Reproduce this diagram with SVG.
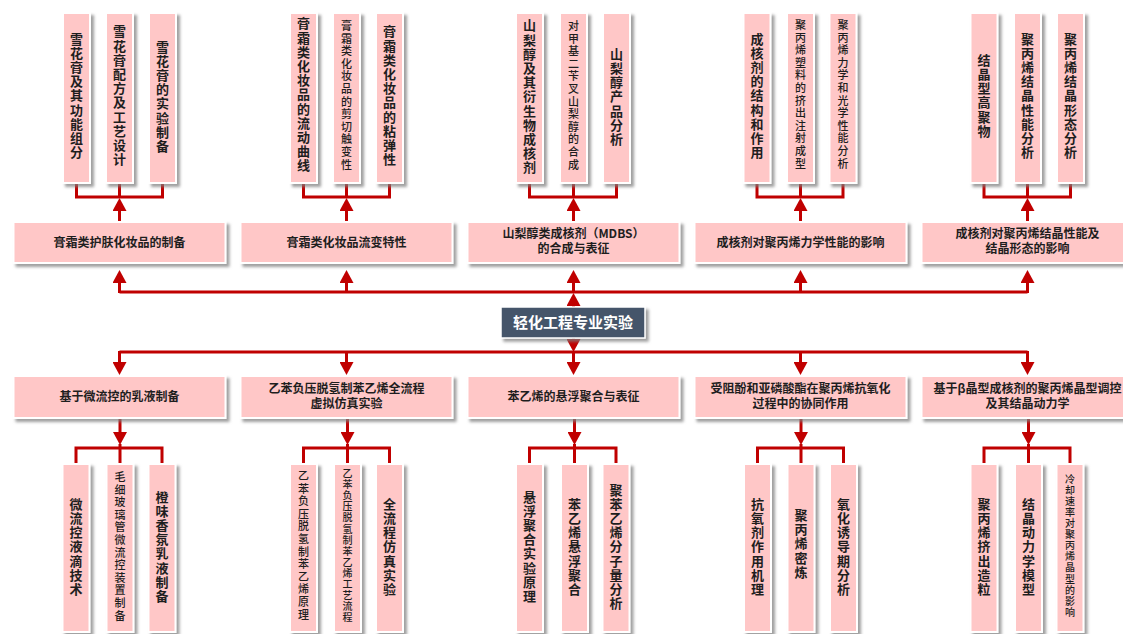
<svg xmlns="http://www.w3.org/2000/svg" width="1123" height="634" viewBox="0 0 1123 634">
<defs>
<filter id="sh" x="-20%" y="-20%" width="150%" height="150%">
<feDropShadow dx="3" dy="3" stdDeviation="1.6" flood-color="#7f7f7f" flood-opacity="0.75"/>
</filter>
<marker id="ah" viewBox="0 0 13 14" markerWidth="13" markerHeight="14" refX="0" refY="7" orient="auto" markerUnits="userSpaceOnUse">
<path d="M0,0 L13,7 L0,14 z" fill="#C00000"/>
</marker>
</defs>
<style>
.box{fill:#FFC7C7;stroke:#FFFFFF;stroke-width:2;filter:url(#sh)}
.ctr{fill:#44546A;stroke:#FFFFFF;stroke-width:1.5;filter:url(#sh)}
.ln{fill:none;stroke:#C00000;stroke-width:3}
.ar{fill:none;stroke:#C00000;stroke-width:3;marker-end:url(#ah)}
text{font-family:"Noto Sans CJK SC","Liberation Sans",sans-serif;fill:#1E1E1E}
.mt{font-size:12px;font-weight:bold;text-anchor:middle}
.ct{font-size:15px;font-weight:bold;text-anchor:middle;fill:#FFFFFF}
.v{writing-mode:vertical-rl;text-anchor:middle}
.lt{font-size:13px;font-weight:bold;letter-spacing:1.2px}
.ls{font-size:11px;font-weight:500;letter-spacing:1.6px}
.lx{font-size:10px;font-weight:500;letter-spacing:1.1px}
</style>
<rect width="1123" height="634" fill="#FFFFFF"/>

<g id="connectors">
<!-- top leaf brackets -->
<path class="ln" d="M76.5,183 V197 H162.5 V183 M119.5,183 V197"/>
<path class="ln" d="M303.5,183 V197 H389.5 V183 M346.5,183 V197"/>
<path class="ln" d="M529.5,183 V197 H616.5 V183 M573.5,183 V197"/>
<path class="ln" d="M757,183 V197 H843 V183 M800.5,183 V197"/>
<path class="ln" d="M984,183 V197 H1070.5 V183 M1027.5,183 V197"/>
<line class="ar" x1="119.5" y1="222" x2="119.5" y2="211"/>
<line class="ar" x1="346.5" y1="222" x2="346.5" y2="211"/>
<line class="ar" x1="573.5" y1="222" x2="573.5" y2="211"/>
<line class="ar" x1="800.5" y1="222" x2="800.5" y2="211"/>
<line class="ar" x1="1027.5" y1="222" x2="1027.5" y2="211"/>
<!-- upper main bus -->
<path class="ln" d="M119.5,292 H1027.5"/>
<line class="ar" x1="119.5" y1="293" x2="119.5" y2="283"/>
<line class="ar" x1="346.5" y1="293" x2="346.5" y2="283"/>
<line class="ar" x1="573.5" y1="293" x2="573.5" y2="283"/>
<line class="ar" x1="800.5" y1="293" x2="800.5" y2="283"/>
<line class="ar" x1="1027.5" y1="293" x2="1027.5" y2="283"/>
<line class="ar" x1="573.5" y1="320" x2="573.5" y2="306"/>
<line class="ar" x1="573.5" y1="325" x2="573.5" y2="339"/>
<!-- lower main bus -->
<path class="ln" d="M119.5,352 H1027.5"/>
<line class="ar" x1="119.5" y1="351" x2="119.5" y2="362"/>
<line class="ar" x1="346.5" y1="351" x2="346.5" y2="362"/>
<line class="ar" x1="573.5" y1="351" x2="573.5" y2="362"/>
<line class="ar" x1="800.5" y1="351" x2="800.5" y2="362"/>
<line class="ar" x1="1027.5" y1="351" x2="1027.5" y2="362"/>
<!-- bottom leaf brackets -->
<line class="ar" x1="120" y1="418" x2="120" y2="432"/>
<line class="ar" x1="347.5" y1="418" x2="347.5" y2="432"/>
<line class="ar" x1="574.5" y1="418" x2="574.5" y2="432"/>
<line class="ar" x1="801" y1="418" x2="801" y2="432"/>
<line class="ar" x1="1028.5" y1="418" x2="1028.5" y2="432"/>
<path class="ln" d="M76,464 V448 H162 V464 M120,444 V464"/>
<path class="ln" d="M303.5,464 V448 H389.5 V464 M347.5,444 V464"/>
<path class="ln" d="M529.5,464 V448 H616 V464 M574.5,444 V464"/>
<path class="ln" d="M757.5,464 V448 H843.5 V464 M801,444 V464"/>
<path class="ln" d="M984,464 V448 H1070 V464 M1028.5,444 V464"/>
</g>

<!-- center node -->
<g id="root">
<rect class="ctr" x="501" y="307" width="144" height="31"/>
<text class="ct" x="573" y="328">轻化工程专业实验</text>
</g>

<!-- upper middle row -->
<g id="u1"><rect class="box" x="13.5" y="222" width="212" height="41"/><text class="mt" x="119.5" y="247">膏霜类护肤化妆品的制备</text></g>
<g id="u2"><rect class="box" x="240.5" y="222" width="212" height="41"/><text class="mt" x="346.5" y="247">膏霜类化妆品流变特性</text></g>
<g id="u3"><rect class="box" x="467.5" y="222" width="212" height="41"/><text class="mt" x="573.5" y="238">山梨醇类成核剂（MDBS）</text><text class="mt" x="573.5" y="253">的合成与表征</text></g>
<g id="u4"><rect class="box" x="694.5" y="222" width="212" height="41"/><text class="mt" x="800.5" y="247">成核剂对聚丙烯力学性能的影响</text></g>
<g id="u5"><rect class="box" x="921.5" y="222" width="212" height="41"/><text class="mt" x="1027.5" y="238">成核剂对聚丙烯结晶性能及</text><text class="mt" x="1027.5" y="253">结晶形态的影响</text></g>

<!-- lower middle row -->
<g id="d1"><rect class="box" x="13.5" y="376" width="212" height="42"/><text class="mt" x="119.5" y="401">基于微流控的乳液制备</text></g>
<g id="d2"><rect class="box" x="240.5" y="376" width="212" height="42"/><text class="mt" x="346.5" y="393">乙苯负压脱氢制苯乙烯全流程</text><text class="mt" x="346.5" y="408">虚拟仿真实验</text></g>
<g id="d3"><rect class="box" x="467.5" y="376" width="212" height="42"/><text class="mt" x="573.5" y="401">苯乙烯的悬浮聚合与表征</text></g>
<g id="d4"><rect class="box" x="694.5" y="376" width="212" height="42"/><text class="mt" x="800.5" y="393">受阻酚和亚磷酸酯在聚丙烯抗氧化</text><text class="mt" x="800.5" y="408">过程中的协同作用</text></g>
<g id="d5"><rect class="box" x="921.5" y="376" width="212" height="42"/><text class="mt" x="1027.5" y="393">基于β晶型成核剂的聚丙烯晶型调控</text><text class="mt" x="1027.5" y="408">及其结晶动力学</text></g>

<!-- top leaves -->
<g id="t1a"><rect class="box" x="63" y="13" width="27" height="170"/><text class="v lt" x="76.5" y="96">雪花膏及其功能组分</text></g>
<g id="t1b"><rect class="box" x="106" y="13" width="27" height="170"/><text class="v lt" x="119.5" y="96">雪花膏配方及工艺设计</text></g>
<g id="t1c"><rect class="box" x="149" y="13" width="27" height="170"/><text class="v lt" x="162.5" y="97">雪花膏的实验制备</text></g>
<g id="t2a"><rect class="box" x="290" y="13" width="27" height="170"/><text class="v lt" x="303.5" y="95">膏霜类化妆品的流动曲线</text></g>
<g id="t2b"><rect class="box" x="333" y="13" width="27" height="170"/><text class="v ls" x="346.5" y="96">膏霜类化妆品的剪切触变性</text></g>
<g id="t2c"><rect class="box" x="376" y="13" width="27" height="170"/><text class="v lt" x="389.5" y="96">膏霜类化妆品的粘弹性</text></g>
<g id="t3a"><rect class="box" x="516" y="13" width="27" height="170"/><text class="v lt" x="529.5" y="97">山梨醇及其衍生物成核剂</text></g>
<g id="t3b"><rect class="box" x="560" y="13" width="27" height="170"/><text class="v ls" x="573.5" y="96">对甲基二苄叉山梨醇的合成</text></g>
<g id="t3c"><rect class="box" x="603" y="13" width="27" height="170"/><text class="v lt" x="616.5" y="97">山梨醇产品分析</text></g>
<g id="t4a"><rect class="box" x="743.5" y="13" width="27" height="170"/><text class="v lt" x="757" y="96">成核剂的结构和作用</text></g>
<g id="t4b"><rect class="box" x="787" y="13" width="27" height="170"/><text class="v ls" x="800.5" y="95">聚丙烯塑料的挤出注射成型</text></g>
<g id="t4c"><rect class="box" x="829.5" y="13" width="27" height="170"/><text class="v ls" x="843" y="95">聚丙烯力学和光学性能分析</text></g>
<g id="t5a"><rect class="box" x="970.5" y="13" width="27" height="170"/><text class="v lt" x="984" y="96">结晶型高聚物</text></g>
<g id="t5b"><rect class="box" x="1014" y="13" width="27" height="170"/><text class="v lt" x="1027.5" y="96">聚丙烯结晶性能分析</text></g>
<g id="t5c"><rect class="box" x="1057" y="13" width="27" height="170"/><text class="v lt" x="1070.5" y="96">聚丙烯结晶形态分析</text></g>

<!-- bottom leaves -->
<g id="b1a"><rect class="box" x="62.5" y="464" width="27" height="168"/><text class="v lt" x="76" y="547">微流控液滴技术</text></g>
<g id="b1b"><rect class="box" x="106.5" y="464" width="27" height="168"/><text class="v ls" x="120" y="547">毛细玻璃管微流控装置制备</text></g>
<g id="b1c"><rect class="box" x="148.5" y="464" width="27" height="168"/><text class="v lt" x="162" y="547">橙味香氛乳液制备</text></g>
<g id="b2a"><rect class="box" x="290" y="464" width="27" height="168"/><text class="v ls" x="303.5" y="546">乙苯负压脱氢制苯乙烯原理</text></g>
<g id="b2b"><rect class="box" x="334" y="464" width="27" height="168"/><text class="v lx" x="347.5" y="546">乙苯负压脱氢制苯乙烯工艺流程</text></g>
<g id="b2c"><rect class="box" x="376" y="464" width="27" height="168"/><text class="v lt" x="389.5" y="547">全流程仿真实验</text></g>
<g id="b3a"><rect class="box" x="516" y="464" width="27" height="168"/><text class="v lt" x="529.5" y="547">悬浮聚合实验原理</text></g>
<g id="b3b"><rect class="box" x="561" y="464" width="27" height="168"/><text class="v lt" x="574.5" y="547">苯乙烯悬浮聚合</text></g>
<g id="b3c"><rect class="box" x="602.5" y="464" width="27" height="168"/><text class="v lt" x="616" y="547">聚苯乙烯分子量分析</text></g>
<g id="b4a"><rect class="box" x="744" y="464" width="27" height="168"/><text class="v lt" x="757.5" y="547">抗氧剂作用机理</text></g>
<g id="b4b"><rect class="box" x="787.5" y="464" width="27" height="168"/><text class="v lt" x="801" y="544">聚丙烯密炼</text></g>
<g id="b4c"><rect class="box" x="830" y="464" width="27" height="168"/><text class="v lt" x="843.5" y="547">氧化诱导期分析</text></g>
<g id="b5a"><rect class="box" x="970.5" y="464" width="27" height="168"/><text class="v lt" x="984" y="547">聚丙烯挤出造粒</text></g>
<g id="b5b"><rect class="box" x="1015" y="464" width="27" height="168"/><text class="v lt" x="1028.5" y="547">结晶动力学模型</text></g>
<g id="b5c"><rect class="box" x="1056.5" y="464" width="27" height="168"/><text class="v lx" x="1070" y="546">冷却速率对聚丙烯晶型的影响</text></g>
</svg>
